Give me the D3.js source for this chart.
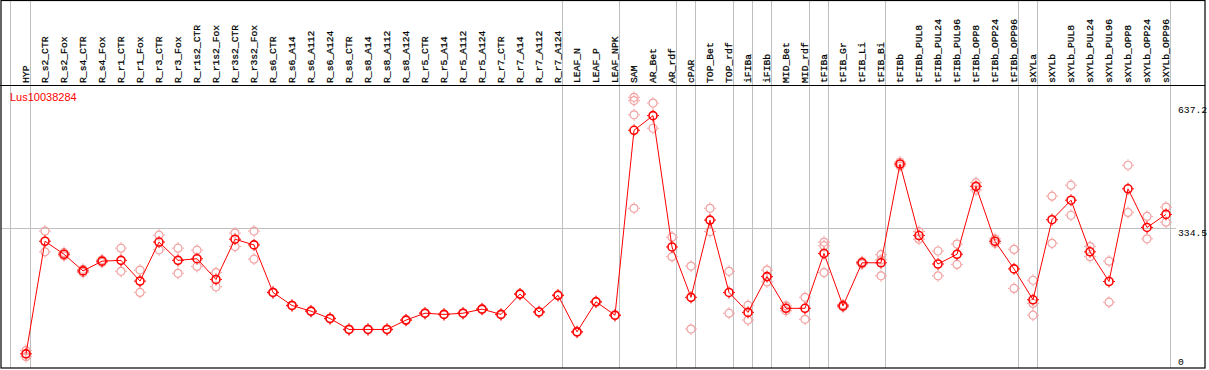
<!DOCTYPE html>
<html>
<head>
<meta charset="utf-8">
<script src="https://cdn.jsdelivr.net/npm/d3@7/dist/d3.min.js"></script>
<style>
  body { margin: 0; background: #fff; }
  svg { display: block; }
</style>
</head>
<body>
<div id="chart"></div>
<script>
const geneId = "Lus10038284";

const samples = [
  "HYP", "R_s2_CTR", "R_s2_Fox", "R_s4_CTR", "R_s4_Fox", "R_r1_CTR", "R_r1_Fox",
  "R_r3_CTR", "R_r3_Fox", "R_r1s2_CTR", "R_r1s2_Fox", "R_r3s2_CTR", "R_r3s2_Fox",
  "R_s6_CTR", "R_s6_A14", "R_s6_A112", "R_s6_A124", "R_s8_CTR", "R_s8_A14",
  "R_s8_A112", "R_s8_A124", "R_r5_CTR", "R_r5_A14", "R_r5_A112", "R_r5_A124",
  "R_r7_CTR", "R_r7_A14", "R_r7_A112", "R_r7_A124", "LEAF_N", "LEAF_P", "LEAF_NPK",
  "SAM", "AR_Bet", "AR_rdf", "cPAR", "TOP_Bet", "TOP_rdf", "iFIBa", "iFIBb",
  "MID_Bet", "MID_rdf", "tFIBa", "tFIB_Gr", "tFIB_Li", "tFIB_Bi", "tFIBb",
  "tFIBb_PUL8", "tFIBb_PUL24", "tFIBb_PUL96", "tFIBb_OPP8", "tFIBb_OPP24", "tFIBb_OPP96",
  "sXYLa", "sXYLb", "sXYLb_PUL8", "sXYLb_PUL24", "sXYLb_PUL96", "sXYLb_OPP8",
  "sXYLb_OPP24", "sXYLb_OPP96"
];

// mean expression per sample
const means = [
  25, 302, 270, 229, 253, 255, 204,
  300, 255, 259, 208, 307, 293,
  176, 144, 130, 112, 85, 85,
  85, 108, 125, 122, 125, 135,
  122, 172, 128, 169, 79, 153, 120,
  575, 611, 288, 164, 354, 176, 127, 215,
  137, 137, 272, 143, 249, 249, 492,
  316, 246, 270, 437, 302, 234,
  158, 355, 403, 276, 203, 431,
  336, 368
];

// replicate values per sample
const reps = [
  [33, 18], [327, 276], [266, 274], [225, 233], [250, 256], [285, 228], [231, 176],
  [317, 281], [285, 223], [280, 240], [225, 190], [322, 289], [327, 258],
  [177, 175], [145, 143], [131, 129], [113, 111], [86, 84], [86, 84],
  [86, 84], [109, 107], [126, 124], [123, 121], [126, 124], [136, 134],
  [123, 121], [173, 171], [129, 127], [170, 168], [80, 78], [154, 152], [121, 119],
  [656, 648, 613, 383], [642, 580], [312, 264], [241, 86], [383, 326], [228, 125],
  [144, 108], [231, 202],
  [143, 131], [164, 110], [300, 291, 225], [140, 146], [246, 252], [269, 256, 217],
  [497, 487],
  [326, 307], [278, 217], [295, 245], [446, 428], [308, 297], [282, 186],
  [206, 149, 120], [413, 297], [440, 366], [289, 264], [253, 152], [489, 373],
  [363, 308], [386, 349]
];

// last sample of each group (gray separator drawn after it)
const groupEnds = [
  "HYP", "R_r7_A124", "LEAF_NPK", "AR_rdf", "cPAR", "TOP_rdf", "iFIBa", "iFIBb",
  "MID_rdf", "tFIBa", "tFIB_Bi", "tFIBb_OPP96", "sXYLa", "sXYLb_OPP96"
];

const yTicks = [0, 334.5, 637.2];
const gridValues = [334.5];

const W = 1209, H = 370;
const headerY = 85, bottomY = 368, rightX = 1205;

const svg = d3.select("#chart").append("svg")
  .attr("width", W)
  .attr("height", H);

const x = d3.scalePoint().domain(samples).range([26, 1166]);
const y = d3.scaleLinear().domain([0, 637.2]).range([364, 105]);

const grey = "#c0c0c0";
const mono = "'Liberation Mono', 'DejaVu Sans Mono', monospace";

// vertical group separators
const sepX = [x(samples[0]) - 15.5].concat(groupEnds.map(d => x(d) + 4.5));
svg.append("g").selectAll("line")
  .data(sepX)
  .enter().append("line")
  .attr("x1", d => d).attr("x2", d => d)
  .attr("y1", 0).attr("y2", bottomY)
  .attr("stroke", grey).attr("stroke-width", 1);

// horizontal grid
svg.append("g").selectAll("line")
  .data(gridValues)
  .enter().append("line")
  .attr("x1", 1).attr("x2", 1176)
  .attr("y1", d => Math.round(y(d)) + 0.5).attr("y2", d => Math.round(y(d)) + 0.5)
  .attr("stroke", grey).attr("stroke-width", 1);

// header separator
svg.append("line")
  .attr("x1", 0).attr("x2", rightX)
  .attr("y1", headerY + 0.5).attr("y2", headerY + 0.5)
  .attr("stroke", "#000").attr("stroke-width", 1.2);

// sample labels
svg.append("g").selectAll("text")
  .data(samples)
  .enter().append("text")
  .attr("transform", d => "translate(" + (Math.round(x(d)) + 3) + "," + (headerY - 2) + ") rotate(-90)")
  .attr("font-family", mono)
  .attr("font-size", "9.7px")
  .attr("fill", "#000")
  .attr("stroke", "#000")
  .attr("stroke-width", 0.25)
  .text(d => d);

function marker(g, color, width) {
  g.append("circle")
    .attr("r", 4)
    .attr("fill", "none")
    .attr("stroke", color)
    .attr("stroke-width", width);
  g.append("path")
    .attr("d", "M0,-6V-4.5M0,4.5V6M-6,0H-4.5M4.5,0H6")
    .attr("stroke", color)
    .attr("stroke-width", 1);
}

// replicate points
const repData = [];
samples.forEach((s, i) => reps[i].forEach(v => repData.push({ s: s, v: v })));
svg.append("g").selectAll("g")
  .data(repData)
  .enter().append("g")
  .attr("transform", d => "translate(" + x(d.s) + "," + y(d.v) + ")")
  .each(function () { marker(d3.select(this), "#f2a0a0", 1.2); });

// mean line
const line = d3.line().x(d => x(d.s)).y(d => y(d.v));
const meanData = samples.map((s, i) => ({ s: s, v: means[i] }));
svg.append("path")
  .datum(meanData)
  .attr("d", line)
  .attr("fill", "none")
  .attr("stroke", "#ff0000")
  .attr("stroke-width", 1);

svg.append("g").selectAll("g")
  .data(meanData)
  .enter().append("g")
  .attr("transform", d => "translate(" + x(d.s) + "," + y(d.v) + ")")
  .each(function () { marker(d3.select(this), "#ff0000", 1.6); });

// gene id
svg.append("text")
  .attr("x", 10).attr("y", 101)
  .attr("font-family", "'Liberation Sans', Arial, sans-serif")
  .attr("font-size", "11px")
  .attr("fill", "#ff0000")
  .text(geneId);

// frame
svg.append("rect")
  .attr("x", 1).attr("y", 0.5)
  .attr("width", rightX - 1).attr("height", bottomY - 0.5)
  .attr("fill", "none")
  .attr("stroke", "#000")
  .attr("stroke-width", 1.2);

// y labels on the right
svg.append("g").selectAll("text")
  .data(yTicks)
  .enter().append("text")
  .attr("x", 1178)
  .attr("y", d => Math.min(y(d) + 8, 365))
  .attr("font-family", mono)
  .attr("font-size", "9.7px")
  .attr("fill", "#000")
  .text(d => d);
</script>
</body>
</html>
